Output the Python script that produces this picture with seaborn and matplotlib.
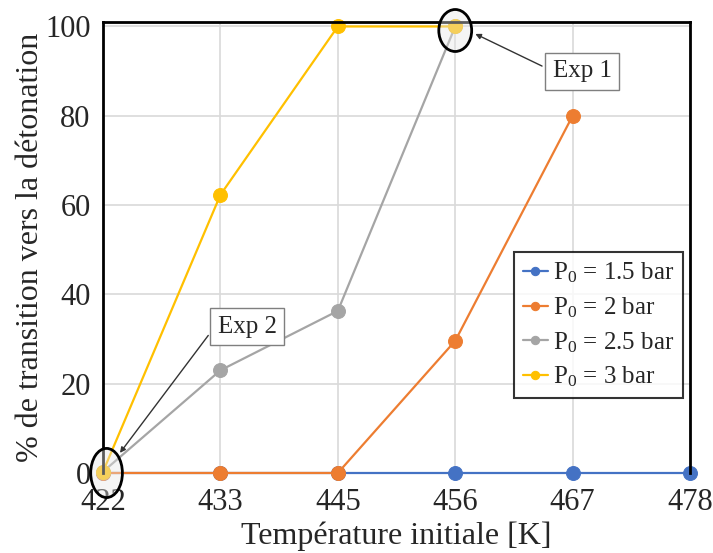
import numpy as np
import pandas as pd
import matplotlib
matplotlib.use("Agg")
import matplotlib.pyplot as plt
import seaborn as sns
from matplotlib.patches import Ellipse

# Initial temperatures (categorical x axis)
temperatures = ["422", "433", "445", "456", "467", "478"]

# % transition to detonation for each initial pressure
p_15 = [0, 0, 0, 0, 0, 0]
p_20 = [0, 0, 0, 29.6, 80, np.nan]
p_25 = [0.3, 23, 36.3, 100, np.nan, np.nan]
p_30 = [0.3, 62.3, 100, 100, np.nan, np.nan]

labels = ["P$\\mathregular{_0}$ = 1.5 bar", "P$\\mathregular{_0}$ = 2 bar",
          "P$\\mathregular{_0}$ = 2.5 bar", "P$\\mathregular{_0}$ = 3 bar"]
colors = ["#4472C4", "#ED7D31", "#A5A5A5", "#FFC000"]

sns.set_style("white")
plt.rcParams['font.family'] = ['Liberation Serif', 'DejaVu Serif']

fig = plt.figure(figsize=(7.13, 5.53), dpi=100)
ax = fig.add_axes([0.1445, 0.1447, 0.8233, 0.8155])

xpos = np.arange(len(temperatures))
for vals, lab, col in zip([p_15, p_20, p_25, p_30], labels, colors):
    df = pd.DataFrame({"x": xpos, "y": vals}).dropna()
    sns.lineplot(data=df, x="x", y="y", ax=ax, color=col, marker="o",
                 markersize=10, markeredgecolor=col, linewidth=1.6, label=lab)

for ln in ax.lines:
    ln.set_clip_on(False)

ax.set_xlim(0, 5)
ax.set_ylim(0, 101)
ax.set_xticks(xpos)
ax.set_xticklabels(temperatures)
ax.set_yticks([0, 20, 40, 60, 80, 100])
ax.tick_params(axis="both", labelsize=22, length=0)
ax.tick_params(axis="x", pad=11)
ax.tick_params(axis="y", pad=9)
ax.grid(True, color="#d9d9d9", linewidth=1.2)
ax.set_axisbelow(True)
for side in ["left", "top", "right"]:
    ax.spines[side].set_color("black")
    ax.spines[side].set_linewidth(2)
ax.spines["bottom"].set_visible(False)

ax.set_xlabel("Température initiale [K]", fontsize=23, labelpad=3)
ax.set_ylabel("% de transition vers la détonation", fontsize=23, labelpad=0)

# highlighted experiments
for (cx, cy, w, h) in [(3.0, 99.1, 0.28, 9.4), (0.03, 0.0, 0.27, 11.0)]:
    e = Ellipse((cx, cy), w, h, facecolor=(0.9, 0.9, 0.9, 0.4),
                edgecolor="black", linewidth=2, clip_on=False, zorder=5)
    ax.add_patch(e)

box = dict(boxstyle="square,pad=0.3", fc="white", ec="#7f7f7f", lw=1)
ax.annotate("Exp 1", xy=(3.15, 98.6), xytext=(4.08, 90), fontsize=18,
            ha="center", va="center", bbox=box, zorder=6,
            arrowprops=dict(arrowstyle="-|>", color="#333333", lw=1,
                            mutation_scale=8, relpos=(0, 0.5)))
ax.annotate("Exp 2", xy=(0.13, 4), xytext=(1.23, 32.7), fontsize=18,
            ha="center", va="center", bbox=box, zorder=6,
            arrowprops=dict(arrowstyle="-|>", color="#333333", lw=1,
                            mutation_scale=8, relpos=(0, 0.7)))

leg = ax.legend(loc="upper left", bbox_to_anchor=(0.70, 0.49), fontsize=18,
                frameon=True, fancybox=False, edgecolor="black",
                handlelength=1.0, handletextpad=0.2, borderpad=0.35,
                labelspacing=0.4, markerscale=0.6, borderaxespad=0)
leg.get_frame().set_linewidth(1.5)

fig.savefig("out.png", dpi=100)
